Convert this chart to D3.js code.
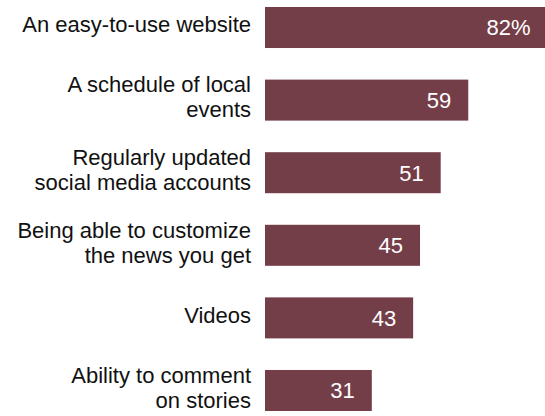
<!DOCTYPE html>
<html>
<head>
<meta charset="utf-8">
<script src="https://cdn.jsdelivr.net/npm/d3@7"></script>
<style>
  html, body { margin: 0; padding: 0; background: #ffffff; }
  svg { display: block; }
  text { font-family: "Liberation Sans", Arial, sans-serif; }
</style>
</head>
<body>
<svg id="chart" width="545" height="416"></svg>
<script>
// What readers want from a local news source (% saying each is important)
const categories = [
  "An easy-to-use website",
  "A schedule of local events",
  "Regularly updated social media accounts",
  "Being able to customize the news you get",
  "Videos",
  "Ability to comment on stories"
];
const labelLines = [
  ["An easy-to-use website"],
  ["A schedule of local", "events"],
  ["Regularly updated", "social media accounts"],
  ["Being able to customize", "the news you get"],
  ["Videos"],
  ["Ability to comment", "on stories"]
];
const values = [82, 59, 51, 45, 43, 31];
const valueLabels = ["82%", "59", "51", "45", "43", "31"];

const width = 545, height = 416;
const barLeft = 265;
const fontSize = 22;
const lineHeight = 25;
const barColor = "#743e49";

const svg = d3.select("#chart");

const x = d3.scaleLinear()
  .domain([0, 82])
  .range([barLeft, 547.5]);

const y = d3.scaleBand()
  .domain(categories)
  .range([7, 411])
  .paddingInner(0.435)
  .paddingOuter(0);

const rows = svg.selectAll("g.row")
  .data(categories.map((c, i) => ({ c, i, v: values[i] })))
  .join("g")
  .attr("class", "row");

rows.append("rect")
  .attr("x", x(0))
  .attr("y", d => y(d.c))
  .attr("width", d => x(d.v) - x(0))
  .attr("height", y.bandwidth())
  .attr("fill", barColor);

// Category labels, right-aligned to the left of each bar
const capHalf = fontSize * 0.716 / 2;
rows.append("text")
  .attr("text-anchor", "end")
  .attr("font-size", fontSize)
  .attr("fill", "#111111")
  .each(function (d) {
    const lines = labelLines[d.i];
    const cy = y(d.c) + y.bandwidth() / 2 - 3;
    const first = cy - (lines.length - 1) * lineHeight / 2 + capHalf;
    d3.select(this).selectAll("tspan")
      .data(lines)
      .join("tspan")
      .attr("x", barLeft - 14)
      .attr("y", (t, j) => first + j * lineHeight)
      .text(t => t);
  });

// Value labels inside the bar ends
rows.append("text")
  .attr("text-anchor", "end")
  .attr("font-size", fontSize)
  .attr("fill", "#ffffff")
  .attr("x", d => x(d.v) - 17)
  .attr("y", d => y(d.c) + y.bandwidth() / 2 + capHalf)
  .text(d => valueLabels[d.i]);
</script>
</body>
</html>
